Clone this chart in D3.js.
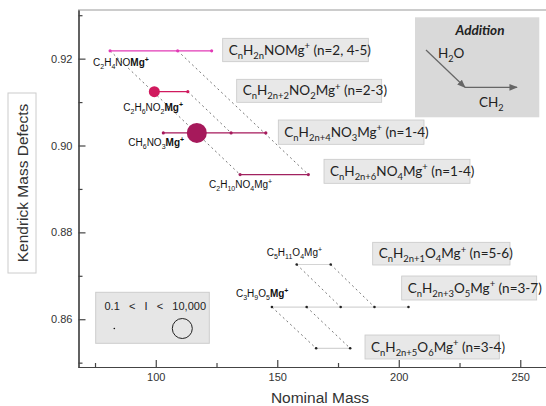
<!DOCTYPE html>
<html>
<head>
<meta charset="utf-8">
<script src="https://d3js.org/d3.v7.min.js"></script>
<style>
    body { margin: 0; background: #fff; }
    .tick text { font: 11px 'Liberation Sans', Arial, sans-serif; fill: #333; }
    .axis path, .axis line { stroke: #444; stroke-width: 1.2; }
    .axis-title { font: 15.5px 'Liberation Sans', Arial, sans-serif; fill: #333; }
    .fam-label { font: 13.5px Lato, sans-serif; fill: #222; }
    .pt-label { font: 10px 'Liberation Sans', Arial, sans-serif; fill: #111; }
    .link { fill: none; stroke: #777; stroke-width: 1; stroke-dasharray: 2, 3; }
</style>
</head>
<body>
<svg id="chart" width="546" height="406"></svg>
<script>
    // families (CH2 series), one KMD per family
    const familyNames = [
        "C_nH_{2n}NOMg^+ (n=2, 4-5)",
        "C_nH_{2n+2}NO_2Mg^+ (n=2-3)",
        "C_nH_{2n+4}NO_3Mg^+ (n=1-4)",
        "C_nH_{2n+6}NO_4Mg^+ (n=1-4)",
        "C_nH_{2n+1}O_4Mg^+ (n=5-6)",
        "C_nH_{2n+3}O_5Mg^+ (n=3-7)",
        "C_nH_{2n+5}O_6Mg^+ (n=3-4)"
    ];
    const familyKMD = [0.9218, 0.9124, 0.9029, 0.8933, 0.8726, 0.8628, 0.8533];
    const familyMass = [
        [81.2, 109.0, 123.0],
        [99.4, 113.2],
        [103.1, 116.9, 131.0, 145.3],
        [134.7, 162.8],
        [158.0, 172.0],
        [147.8, 162.1, 176.1, 190.0, 204.0],
        [166.0, 180.0]
    ];
    const familyIntensity = [
        [40, 40, 40],
        [2500, 40],
        [40, 10000, 40, 40],
        [40, 40],
        [10, 10],
        [10, 10, 10, 10, 10],
        [10, 10]
    ];
    // H2O addition links: [family, index] -> [family, index]
    const waterLinks = [
        [[0, 0], [3, 0]], [[0, 1], [3, 1]], [[1, 1], [2, 2]],
        [[4, 0], [5, 2]], [[4, 1], [5, 3]], [[5, 0], [6, 0]], [[5, 1], [6, 1]]
    ];
    const pointLabels = [
        { f: 0, i: 0, text: "C_2H_4NO*Mg^+*" },
        { f: 1, i: 0, text: "C_2H_6NO_2*Mg^+*" },
        { f: 2, i: 0, text: "CH_6NO_3*Mg^+*" },
        { f: 3, i: 0, text: "C_2H_{10}NO_4Mg^+" },
        { f: 4, i: 0, text: "C_5H_{11}O_4Mg^+" },
        { f: 5, i: 0, text: "C_3H_9O_5*Mg^+*" }
    ];
    const xMajor = [100, 150, 200, 250];
    const xMinor = [75, 125, 175, 225];
    const yMajor = [0.86, 0.88, 0.90, 0.92];
    const yMinor = [0.85, 0.87, 0.89, 0.91, 0.93];
    const legendValues = [0.1, 10000];

    // layout / style
    const familyColors = ["#e23ab6", "#d01a5e", "#a6195b", "#a1225f", "#222", "#222", "#222"];
    const familyLine = ["#e23ab6", "#d01a5e", "#a6195b", "#a1225f", "#d4d4d4", "#d4d4d4", "#d4d4d4"];
    const boxLayout = [
        [222.7, 38.3, 145.6, 23.4], [236.7, 79.3, 145, 23], [278.3, 120, 145.7, 24.3],
        [324, 159.3, 146, 24], [372.7, 242.3, 137.3, 22.7], [401.7, 276, 135, 24], [365, 335, 134.3, 24]
    ];
    const labelOffset = [[-17, 15], [-31, 19], [-35, 13], [-31, 13], [-30, -9], [-36, -10]];

    function parseFormula(s) {
        const out = [];
        let bold = false, buf = "", i = 0;
        const flush = () => { if (buf) { out.push({ t: buf, k: "n", b: bold }); buf = ""; } };
        while (i < s.length) {
            const c = s[i];
            if (c === "*") { flush(); bold = !bold; i++; continue; }
            if (c === "_" || c === "^") {
                flush();
                let t;
                if (s[i + 1] === "{") { const j = s.indexOf("}", i); t = s.slice(i + 2, j); i = j + 1; }
                else { t = s[i + 1]; i += 2; }
                out.push({ t: t, k: c === "_" ? "sub" : "sup", b: bold });
                continue;
            }
            buf += c; i++;
        }
        flush();
        return out;
    }
    function writeFormula(sel, s, fs) {
        let cur = 0;
        parseFormula(s).forEach(seg => {
            const target = seg.k === "sub" ? 0.3 * fs : seg.k === "sup" ? -0.4 * fs : 0;
            const ts = sel.append("tspan").text(seg.t).attr("dy", target - cur);
            if (seg.k !== "n") ts.style("font-size", (0.7 * fs) + "px");
            if (seg.b) ts.style("font-weight", "bold");
            cur = target;
        });
        return sel;
    }

    const svg = d3.select("#chart");
    const x = d3.scaleLinear().domain([68, 261]).range([78, 547]);
    const y = d3.scaleLinear().domain([0.849, 0.9312]).range([367, 10]);
    const r = d3.scaleSqrt().domain([0, 10000]).range([1, 10]);

    // y axis title box
    svg.append("rect").attr("x", 8).attr("y", 93).attr("width", 28).attr("height", 180)
        .attr("fill", "#fff").attr("stroke", "#ccc");
    svg.append("text").attr("class", "axis-title")
        .attr("transform", "translate(27.5,183) rotate(-90)").attr("text-anchor", "middle")
        .text("Kendrick Mass Defects");
    svg.append("text").attr("class", "axis-title").attr("x", 320).attr("y", 403)
        .attr("text-anchor", "middle").text("Nominal Mass");

    // frame top
    svg.append("line").attr("x1", 78).attr("x2", 546).attr("y1", 10).attr("y2", 10)
        .attr("stroke", "#999").attr("stroke-width", 1.2);

    // axes
    svg.append("g").attr("class", "axis").attr("transform", "translate(0,367)")
        .call(d3.axisBottom(x).tickValues(xMajor).tickSizeInner(-7).tickSizeOuter(0).tickPadding(6));
    svg.append("g").attr("class", "axis").attr("transform", "translate(0,367)")
        .call(d3.axisBottom(x).tickValues(xMinor).tickSizeInner(-4).tickSizeOuter(0).tickFormat(""));
    svg.append("g").attr("class", "axis").attr("transform", "translate(78.5,0)")
        .call(d3.axisLeft(y).tickValues(yMajor).tickSizeInner(-7).tickSizeOuter(0).tickPadding(6)
            .tickFormat(d3.format(".2f")));
    svg.append("g").attr("class", "axis").attr("transform", "translate(78.5,0)")
        .call(d3.axisLeft(y).tickValues(yMinor).tickSizeInner(-4).tickSizeOuter(0).tickFormat(""));

    // legend
    const lg = svg.append("g");
    lg.append("rect").attr("x", 95.7).attr("y", 292.3).attr("width", 113.6).attr("height", 51)
        .attr("fill", "#e6e6e6").attr("stroke", "#ccc");
    lg.append("text").attr("x", 104.5).attr("y", 310).style("white-space", "pre")
        .style("font", "11px 'Liberation Sans', Arial, sans-serif").attr("fill", "#222")
        .text("0.1   <   I   <   10,000");
    lg.selectAll("circle").data(legendValues).enter().append("circle")
        .attr("cx", (d, i) => i ? 182.3 : 114.3).attr("cy", 328.5)
        .attr("r", d => r(d) - (d < 1 ? 0.2 : 0))
        .attr("fill", (d, i) => i ? "none" : "#111").attr("stroke", (d, i) => i ? "#222" : "none");

    // addition box
    const ad = svg.append("g");
    ad.append("rect").attr("x", 415).attr("y", 17.3).attr("width", 124.3).attr("height", 100)
        .attr("fill", "#d9d9d9");
    ad.append("text").attr("x", 480).attr("y", 35).attr("text-anchor", "middle")
        .style("font", "italic bold 13.5px Lato, sans-serif").attr("fill", "#222").text("Addition");
    writeFormula(ad.append("text").attr("class", "fam-label").attr("x", 438).attr("y", 57.7), "H_2O", 13);
    writeFormula(ad.append("text").attr("class", "fam-label").attr("x", 479).attr("y", 106.7), "CH_2", 13);
    svg.append("defs").append("marker").attr("id", "ah").attr("viewBox", "0 0 10 10")
        .attr("refX", 9).attr("refY", 5).attr("markerWidth", 7).attr("markerHeight", 7)
        .attr("orient", "auto").append("path").attr("d", "M0,1 L10,5 L0,9 Z").attr("fill", "#666");
    ad.append("line").attr("x1", 426).attr("y1", 50).attr("x2", 465).attr("y2", 87.3)
        .attr("stroke", "#666").attr("stroke-width", 1.2).attr("marker-end", "url(#ah)");
    ad.append("line").attr("x1", 465).attr("y1", 87.3).attr("x2", 517).attr("y2", 87.3)
        .attr("stroke", "#666").attr("stroke-width", 1.2).attr("marker-end", "url(#ah)");

    // H2O links
    svg.append("g").selectAll("line").data(waterLinks).enter().append("line").attr("class", "link")
        .attr("x1", d => x(familyMass[d[0][0]][d[0][1]])).attr("y1", d => y(familyKMD[d[0][0]]))
        .attr("x2", d => x(familyMass[d[1][0]][d[1][1]])).attr("y2", d => y(familyKMD[d[1][0]]));

    // CH2 series lines
    svg.append("g").selectAll("line").data(familyKMD).enter().append("line")
        .attr("x1", (d, i) => x(d3.min(familyMass[i]))).attr("x2", (d, i) => x(d3.max(familyMass[i])))
        .attr("y1", d => y(d)).attr("y2", d => y(d))
        .attr("stroke", (d, i) => familyLine[i]).attr("stroke-width", 1.2);

    // points
    const pts = [];
    familyMass.forEach((ms, f) => ms.forEach((m, i) =>
        pts.push({ f: f, m: m, kmd: familyKMD[f], I: familyIntensity[f][i] })));
    svg.append("g").selectAll("circle").data(pts).enter().append("circle")
        .attr("cx", d => x(d.m)).attr("cy", d => y(d.kmd)).attr("r", d => r(d.I))
        .attr("fill", d => familyColors[d.f]);

    // family boxes
    familyNames.forEach((name, i) => {
        const b = boxLayout[i];
        svg.append("rect").attr("x", b[0]).attr("y", b[1]).attr("width", b[2]).attr("height", b[3])
            .attr("fill", "#e8e8e8").attr("stroke", "#c8c8c8").attr("stroke-width", 0.8);
        writeFormula(svg.append("text").attr("class", "fam-label")
            .attr("x", b[0] + 6).attr("y", b[1] + b[3] / 2 + 4.5), name, 13.5);
    });

    // point labels
    pointLabels.forEach((p, k) => {
        writeFormula(svg.append("text").attr("class", "pt-label")
            .attr("x", x(familyMass[p.f][p.i]) + labelOffset[k][0])
            .attr("y", y(familyKMD[p.f]) + labelOffset[k][1]), p.text, 10);
    });
</script>
</body>
</html>
